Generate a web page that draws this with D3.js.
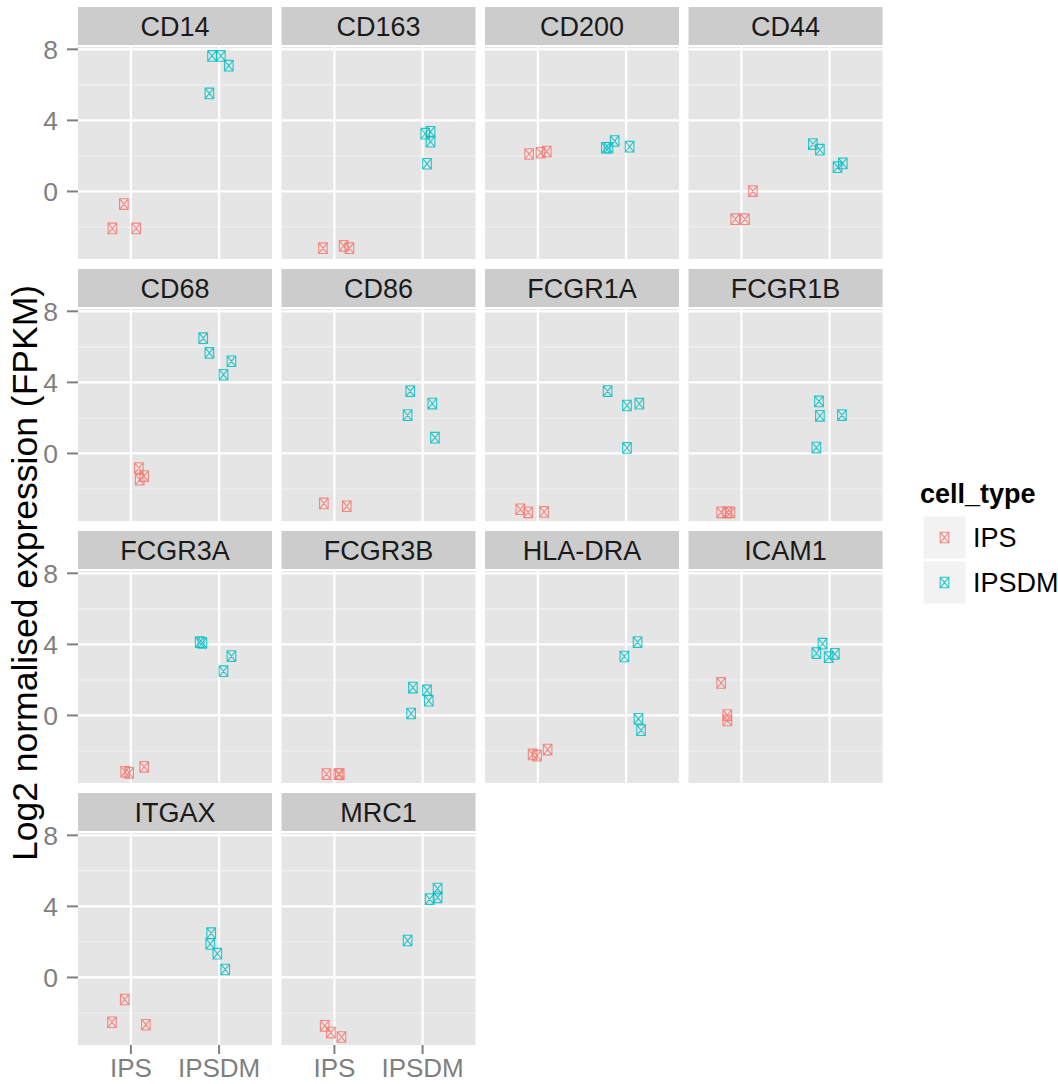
<!DOCTYPE html>
<html>
<head>
<meta charset="utf-8">
<script src="https://cdn.jsdelivr.net/npm/d3@7"></script>
<style>
  html, body { margin: 0; padding: 0; background: #ffffff; }
  svg { display: block; font-family: "Liberation Sans", Arial, Helvetica, sans-serif; }
</style>
</head>
<body>
<svg id="chart" width="1058" height="1084"></svg>
<script>
// Genes shown as facets, in reading order
const genes = ["CD14", "CD163", "CD200", "CD44", "CD68", "CD86", "FCGR1A", "FCGR1B",
               "FCGR3A", "FCGR3B", "HLA-DRA", "ICAM1", "ITGAX", "MRC1"];
const cellTypes = ["IPS", "IPSDM"];
const yTicks = [0, 4, 8];
const yMinorTicks = [-2, 2, 6];
const yDomain = [-3.8, 8.13];

// Log2 expression per sample, one row per gene
const ipsExpr = [
  [-0.71, -2.08, -2.08], [-3.19, -3.06, -3.19], [2.11, 2.18, 2.25], [-1.56, -1.56, 0.02],
  [-0.82, -1.27, -1.48], [-2.81, -2.97], [-3.14, -3.31, -3.29], [-3.31, -3.31, -3.31],
  [-3.17, -3.23, -2.89], [-3.30, -3.30, -3.30], [-2.19, -2.26, -1.92], [1.83, 0.02, -0.28],
  [-1.24, -2.52, -2.66], [-2.72, -3.10, -3.35]
];
const ipsdmExpr = [
  [7.63, 7.63, 7.08, 5.52], [3.25, 3.36, 2.80, 1.56], [2.46, 2.46, 2.84, 2.52], [2.67, 2.35, 1.37, 1.58],
  [6.49, 5.66, 5.19, 4.43], [3.51, 2.81, 2.16, 0.89], [3.51, 2.70, 2.80, 0.31], [2.93, 2.12, 2.16, 0.33],
  [4.13, 4.09, 3.34, 2.49], [1.57, 1.41, 0.83, 0.11], [4.13, 3.32, -0.19, -0.83], [4.04, 3.51, 3.28, 3.47],
  [2.49, 1.89, 1.34, 0.45], [2.08, 4.41, 4.51, 5.00]
];
// Horizontal jitter (category units) applied to each sample
const ipsJitter = [
  [-0.08, -0.21, 0.06], [-0.13, 0.105, 0.17], [-0.10, 0.03, 0.10], [-0.07, 0.04, 0.13],
  [0.09, 0.15, 0.10], [-0.12, 0.14], [-0.20, -0.11, 0.07], [-0.23, -0.16, -0.125],
  [-0.065, -0.02, 0.15], [-0.09, 0.045, 0.06], [-0.06, -0.01, 0.11], [-0.23, -0.16, -0.16],
  [-0.07, -0.215, 0.17], [-0.11, -0.04, 0.08]
];
const ipsdmJitter = [
  [-0.08, 0.02, 0.11, -0.11], [0.03, 0.09, 0.09, 0.05], [-0.23, -0.20, -0.13, 0.04], [-0.19, -0.11, 0.09, 0.15],
  [-0.18, -0.11, 0.14, 0.05], [-0.14, 0.11, -0.17, 0.14], [-0.21, 0.01, 0.15, 0.01], [-0.12, -0.11, 0.14, -0.15],
  [-0.22, -0.19, 0.14, 0.05], [-0.11, 0.05, 0.07, -0.13], [0.13, -0.02, 0.14, 0.17], [-0.08, -0.15, -0.01, 0.06],
  [-0.09, -0.10, -0.02, 0.07], [-0.17, 0.08, 0.17, 0.17]
];

const colors = { IPS: "#F8766D", IPSDM: "#00BFC4" };

// Facet layout
const nCol = 4;
const panelLeft = 78, panelW = 194, colStep = 203.5;
const stripTop = 7, stripH = 38, stripGap = 2, panelH = 212, rowStep = 262;
const stripFont = 27, tickFont = 26.5, xTickFont = 26;

const svg = d3.select("#chart");

const x = d3.scaleLinear().domain([0.4, 2.6]).range([0, panelW]);
const y = d3.scaleLinear().domain(yDomain).range([panelH, 0]);

// Square-with-cross point symbol
function crossSquare(g, cx, cy, color) {
  const w = 4.3, h = 5.3;
  g.append("path")
    .attr("d", `M${cx - w},${cy - h}H${cx + w}V${cy + h}H${cx - w}Z` +
               `M${cx - w},${cy - h}L${cx + w},${cy + h}M${cx + w},${cy - h}L${cx - w},${cy + h}`)
    .attr("fill", "none")
    .attr("stroke", color)
    .attr("stroke-width", 1.1)
    .attr("stroke-opacity", 0.85);
}

const nRows = Math.ceil(genes.length / nCol);

genes.forEach((gene, i) => {
  const col = i % nCol, row = Math.floor(i / nCol);
  const gx = panelLeft + col * colStep;
  const sTop = stripTop + row * rowStep;
  const pTop = sTop + stripH + stripGap;

  // Strip
  svg.append("rect").attr("x", gx).attr("y", sTop).attr("width", panelW).attr("height", stripH)
    .attr("fill", "#CCCCCC");
  svg.append("text").attr("x", gx + panelW / 2).attr("y", sTop + stripH / 2 + 9.5)
    .attr("text-anchor", "middle").attr("font-size", stripFont).attr("fill", "#1A1A1A").text(gene);

  const p = svg.append("g").attr("transform", `translate(${gx},${pTop})`);
  p.append("rect").attr("width", panelW).attr("height", panelH).attr("fill", "#E5E5E5");

  // Minor grid
  p.selectAll(".ymin").data(yMinorTicks).join("line")
    .attr("x1", 0).attr("x2", panelW).attr("y1", d => y(d)).attr("y2", d => y(d))
    .attr("stroke", "#F2F2F2").attr("stroke-width", 1.1);
  // Major grid
  p.selectAll(".ymaj").data(yTicks).join("line")
    .attr("x1", 0).attr("x2", panelW).attr("y1", d => y(d)).attr("y2", d => y(d))
    .attr("stroke", "#FFFFFF").attr("stroke-width", 2.2);
  p.selectAll(".xmaj").data(cellTypes).join("line")
    .attr("x1", (d, k) => x(k + 1)).attr("x2", (d, k) => x(k + 1))
    .attr("y1", 0).attr("y2", panelH)
    .attr("stroke", "#FFFFFF").attr("stroke-width", 2.2);

  // Points
  ipsExpr[i].forEach((v, k) => crossSquare(p, x(1 + ipsJitter[i][k]), y(v), colors.IPS));
  ipsdmExpr[i].forEach((v, k) => crossSquare(p, x(2 + ipsdmJitter[i][k]), y(v), colors.IPSDM));

  // Y axis on first column
  if (col === 0) {
    const ya = svg.append("g").attr("transform", `translate(${gx},${pTop})`);
    yTicks.forEach(t => {
      ya.append("line").attr("x1", -11).attr("x2", 0).attr("y1", y(t)).attr("y2", y(t))
        .attr("stroke", "#7F7F7F").attr("stroke-width", 2);
      ya.append("text").attr("x", -20).attr("y", y(t) + 9.5).attr("text-anchor", "end")
        .attr("font-size", tickFont).attr("fill", "#7F7F7F").text(t);
    });
  }

  // X axis only along the bottom row of facets
  if (row === nRows - 1) {
    const xa = svg.append("g").attr("transform", `translate(${gx},${pTop + panelH})`);
    cellTypes.forEach((c, k) => {
      xa.append("line").attr("x1", x(k + 1)).attr("x2", x(k + 1)).attr("y1", 0).attr("y2", 9)
        .attr("stroke", "#7F7F7F").attr("stroke-width", 2);
      xa.append("text").attr("x", x(k + 1)).attr("y", 32).attr("text-anchor", "middle")
        .attr("font-size", xTickFont).attr("fill", "#7F7F7F").text(c);
    });
  }
});

// Y axis title
svg.append("text")
  .attr("transform", "translate(37,573) rotate(-90)")
  .attr("text-anchor", "middle").attr("font-size", 35.5).attr("fill", "#000000")
  .text("Log2 normalised expression (FPKM)");

// Legend
const lg = svg.append("g").attr("transform", "translate(920,0)");
lg.append("text").attr("x", 0).attr("y", 503).attr("font-size", 27).attr("font-weight", "bold")
  .attr("fill", "#000").text("cell_type");
cellTypes.forEach((c, k) => {
  const ky = 516 + k * 45;
  lg.append("rect").attr("x", 3).attr("y", ky).attr("width", 43).attr("height", 43)
    .attr("fill", "#F2F2F2").attr("stroke", "#FFFFFF").attr("stroke-width", 1);
  crossSquare(lg, 3 + 21.5, ky + 21.5, colors[c]);
  lg.append("text").attr("x", 53).attr("y", ky + 21.5 + 9.5).attr("font-size", 27)
    .attr("fill", "#000").text(c);
});
</script>
</body>
</html>
